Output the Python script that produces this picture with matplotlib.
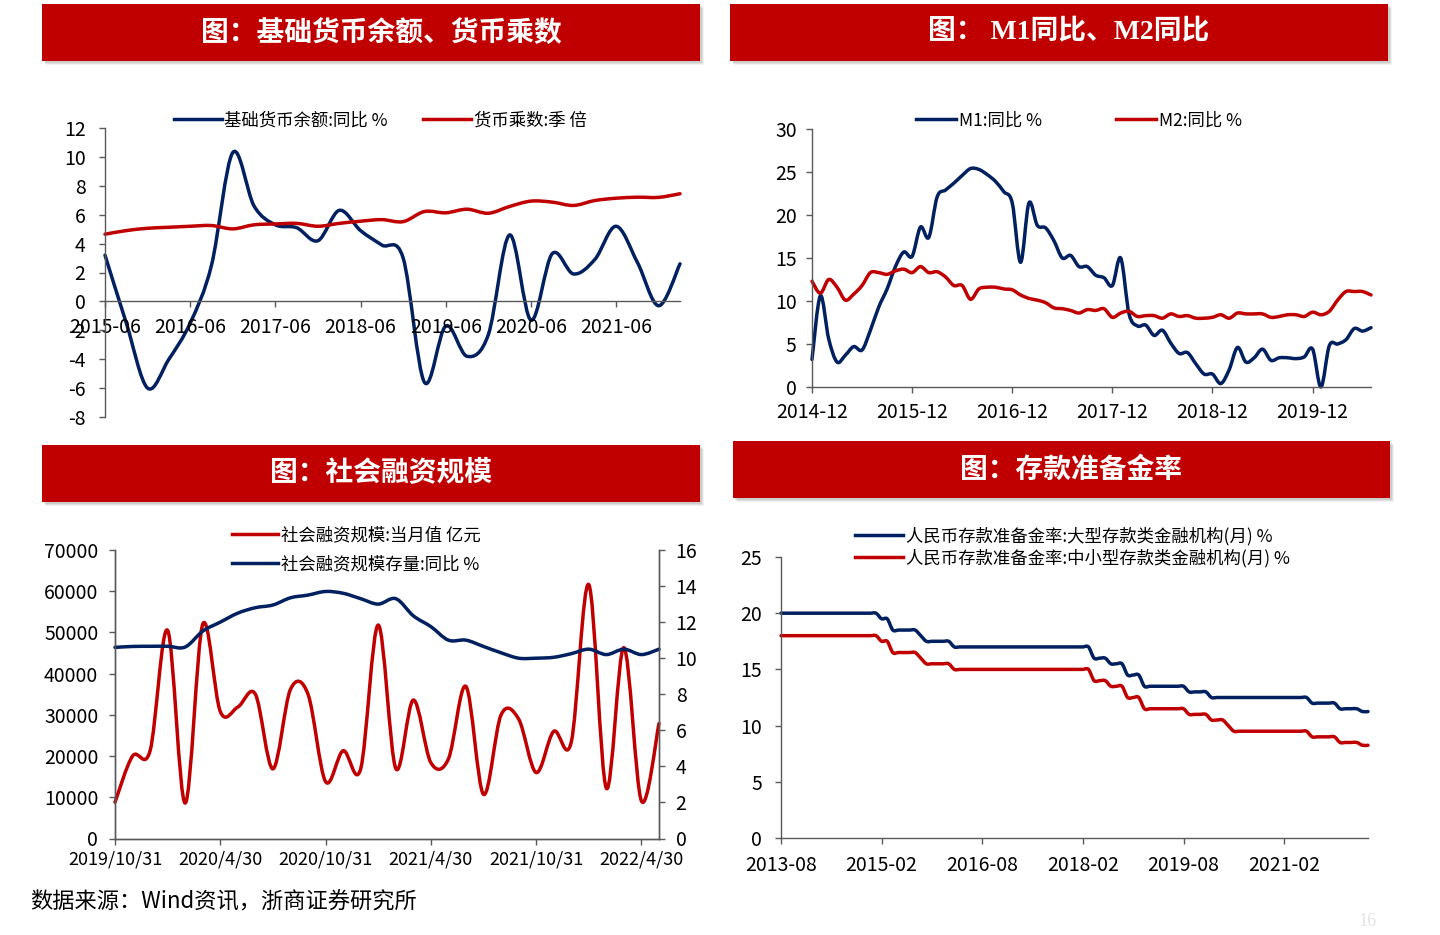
import matplotlib
matplotlib.use("Agg")
import matplotlib.pyplot as plt
from matplotlib.lines import Line2D
from matplotlib.path import Path
from matplotlib.patches import PathPatch, Rectangle

plt.rcParams["font.family"] = ["Noto Sans CJK SC", "DejaVu Sans"]
plt.rcParams["axes.unicode_minus"] = False

BLUE = "#002060"
RED = "#C00000"
SPINE = "#595959"
W, H = 1440, 935

# ---- panel 1: base money yoy (%) and money multiplier, quarterly 2015-06 .. 2022-03
base_money_yoy = [3.2, -1.5, -6.0, -4.0, -1.5, 2.5, 10.3, 6.6, 5.3, 5.1, 4.2, 6.3, 4.9, 3.9,
                  3.0, -5.6, -1.7, -3.8, -2.3, 4.6, -1.3, 3.3, 1.9, 2.9, 5.2, 2.7, -0.3, 2.6]
money_multiplier = [4.65, 4.9, 5.06, 5.13, 5.2, 5.25, 5.02, 5.3, 5.36, 5.4, 5.2, 5.4, 5.55, 5.66,
                    5.52, 6.22, 6.13, 6.38, 6.1, 6.57, 6.94, 6.87, 6.64, 6.98, 7.14, 7.21, 7.2, 7.45]
p1_ticks = [0, 4, 8, 12, 16, 20, 24]
p1_labels = ["2015-06", "2016-06", "2017-06", "2018-06", "2019-06", "2020-06", "2021-06"]

# ---- panel 2: M1 / M2 yoy (%), monthly 2014-12 .. 2020-07
m1_yoy = [3.2, 10.6, 5.6, 2.9, 3.7, 4.7, 4.3, 6.6, 9.3, 11.4, 14.0, 15.7,
          15.2, 18.6, 17.4, 22.1, 22.9, 23.7, 24.6, 25.4, 25.3, 24.7, 23.9, 22.7,
          21.4, 14.5, 21.4, 18.8, 18.5, 17.0, 15.0, 15.3, 14.0, 14.0, 13.0, 12.7,
          11.8, 15.0, 8.5, 7.1, 7.2, 6.0, 6.6, 5.1, 3.9, 4.0, 2.7, 1.5,
          1.5, 0.4, 2.0, 4.6, 2.9, 3.4, 4.4, 3.1, 3.4, 3.4, 3.3, 3.5,
          4.4, 0.0, 4.8, 5.0, 5.5, 6.8, 6.5, 6.9]
m2_yoy = [12.3, 10.9, 12.5, 11.6, 10.1, 10.8, 11.8, 13.3, 13.3, 13.1, 13.5, 13.7,
          13.3, 14.0, 13.3, 13.4, 12.8, 11.8, 11.8, 10.2, 11.4, 11.6, 11.6, 11.4,
          11.3, 10.7, 10.3, 10.1, 9.8, 9.2, 9.1, 8.9, 8.6, 9.0, 8.9, 9.1,
          8.1, 8.6, 8.8, 8.2, 8.3, 8.3, 8.0, 8.5, 8.2, 8.3, 8.0, 8.0,
          8.1, 8.4, 8.0, 8.6, 8.5, 8.5, 8.5, 8.1, 8.2, 8.4, 8.4, 8.2,
          8.7, 8.4, 8.8, 10.1, 11.1, 11.1, 11.1, 10.7]
p2_ticks = [0, 12, 24, 36, 48, 60]
p2_labels = ["2014-12", "2015-12", "2016-12", "2017-12", "2018-12", "2019-12"]

# ---- panel 3: total social financing, monthly 2019-10 .. 2022-05
tsf_flow = [8800, 20000, 21300, 50500, 8600, 52000, 30800, 31900, 35000, 16900, 36200, 35000,
            13800, 21300, 16900, 51800, 17000, 33600, 18400, 19300, 36900, 10700, 30000, 29000,
            16000, 26000, 23400, 61600, 12200, 46300, 9100, 27900]
tsf_stock_yoy = [10.6, 10.65, 10.66, 10.66, 10.62, 11.5, 12.0, 12.5, 12.8, 12.95, 13.35, 13.5,
                 13.7, 13.6, 13.3, 13.0, 13.3, 12.35, 11.75, 11.0, 11.0, 10.65, 10.3, 10.0,
                 10.0, 10.05, 10.25, 10.5, 10.2, 10.5, 10.2, 10.5]
p3_ticks = [0, 6, 12, 18, 24, 30]
p3_labels = ["2019/10/31", "2020/4/30", "2020/10/31", "2021/4/30", "2021/10/31", "2022/4/30"]

# ---- panel 4: RRR (%), monthly 2013-08 .. 2022-05
rrr_large = ([20.0] * 18 + [19.5] * 2 + [18.5] * 5 + [18.0] + [17.5] * 5 + [17.0] * 25
             + [16.0] * 3 + [15.5] * 3 + [14.5] * 3 + [13.5] * 8 + [13.0] * 4 + [12.5] * 18
             + [12.0] * 5 + [11.5] * 4 + [11.25] * 2)
rrr_small = ([18.0] * 18 + [17.5] * 2 + [16.5] * 5 + [16.0] + [15.5] * 5 + [15.0] * 25
             + [14.0] * 3 + [13.5] * 3 + [12.5] * 3 + [11.5] * 8 + [11.0] * 4 + [10.5] * 3
             + [10.0] + [9.5] * 14 + [9.0] * 5 + [8.5] * 4 + [8.25] * 2)
p4_ticks = [0, 18, 36, 54, 72, 90]
p4_labels = ["2013-08", "2015-02", "2016-08", "2018-02", "2019-08", "2021-02"]

LEG_FS = 12.5
TICK_FS = 14


def smooth(ax, y, color, lw=2.5):
    """Excel-like smoothed line (Catmull-Rom drawn as cubic Bezier)."""
    x = list(range(len(y)))
    verts = [(x[0], y[0])]
    codes = [Path.MOVETO]
    n = len(y)
    for i in range(n - 1):
        xa, ya = (x[i - 1], y[i - 1]) if i > 0 else (x[i], y[i])
        xd, yd = (x[i + 2], y[i + 2]) if i + 2 < n else (x[i + 1], y[i + 1])
        verts.append((x[i] + (x[i + 1] - xa) / 6, y[i] + (y[i + 1] - ya) / 6))
        verts.append((x[i + 1] - (xd - x[i]) / 6, y[i + 1] - (yd - y[i]) / 6))
        verts.append((x[i + 1], y[i + 1]))
        codes += [Path.CURVE4] * 3
    ax.add_patch(PathPatch(Path(verts, codes), fc="none", ec=color, lw=lw,
                           capstyle="round", joinstyle="round", clip_on=False))


def px_axes(fig, l, t, r, b):
    return fig.add_axes([l / W, 1 - b / H, (r - l) / W, (b - t) / H])


def style(ax, right=False):
    ax.spines["top"].set_visible(False)
    if not right:
        ax.spines["right"].set_visible(False)
    for s in ax.spines.values():
        s.set_color(SPINE)
        s.set_linewidth(1)
    ax.tick_params(direction="out", length=4, width=1, color=SPINE, labelsize=TICK_FS,
                   labelcolor="black")
    ax.set_facecolor("none")


def legend(ax, handles, labels, anchor, loc, **kw):
    ax.legend(handles, labels, loc=loc, bbox_to_anchor=(anchor[0] / W, 1 - anchor[1] / H),
              bbox_transform=ax.figure.transFigure, frameon=False, fontsize=LEG_FS,
              handletextpad=0.17, borderpad=0, borderaxespad=0, **kw)


def header(bg, l, t, r, b, text, family=None):
    for k, a in [(4, 0.10), (3, 0.15), (2, 0.2)]:
        bg.add_patch(Rectangle((l + k, t + k), r - l, b - t, fc="#7f7f7f", ec="none", alpha=a))
    bg.add_patch(Rectangle((l, t), r - l, b - t, fc=RED, ec="none"))
    kw = {"family": family} if family else {}
    bg.text((l + r) / 2 + 10, (t + b) / 2, text, color="white", fontsize=20, weight="bold",
            ha="center", va="center", **kw)


fig = plt.figure(figsize=(W / 100, H / 100), dpi=100)

bg = fig.add_axes([0, 0, 1, 1], zorder=-5)
bg.set_xlim(0, W)
bg.set_ylim(H, 0)
bg.axis("off")
header(bg, 42, 4, 700, 61, "图：基础货币余额、货币乘数")
header(bg, 730, 4, 1388, 61, "图： M1同比、M2同比", family=["Liberation Serif", "Noto Sans CJK SC"])
header(bg, 42, 445, 700, 502, "图：社会融资规模")
header(bg, 733, 441, 1390, 498, "图：存款准备金率")
bg.text(30, 902, "数据来源：Wind资讯，浙商证券研究所", fontsize=16, va="center", ha="left")
bg.text(1367, 921, "16", fontsize=13, color="#e3e3e3", va="center", ha="center",
        family="Liberation Serif")

blue_h = Line2D([], [], color=BLUE, lw=2.5)
red_h = Line2D([], [], color=RED, lw=2.5)

# panel 1
ax1 = px_axes(fig, 105, 128, 680, 417)
style(ax1)
smooth(ax1, base_money_yoy, BLUE)
smooth(ax1, money_multiplier, RED)
ax1.set_xlim(0, len(base_money_yoy) - 1)
ax1.set_ylim(-8, 12)
ax1.set_yticks(range(-8, 13, 2))
ax1.set_xticks(p1_ticks)
ax1.set_xticklabels(p1_labels)
ax1.spines["bottom"].set_position(("data", 0))
ax1.tick_params(axis="x", pad=7)
ax1.tick_params(axis="y", pad=10)
legend(ax1, [blue_h, red_h], ["基础货币余额:同比 %", "货币乘数:季 倍"], (380, 120.5), "center",
       ncol=2, handlelength=2.76, columnspacing=2.0)

# panel 2
ax2 = px_axes(fig, 812, 129, 1371, 387)
style(ax2)
smooth(ax2, m1_yoy, BLUE)
smooth(ax2, m2_yoy, RED)
ax2.set_xlim(0, len(m1_yoy) - 1)
ax2.set_ylim(0, 30)
ax2.set_yticks(range(0, 31, 5))
ax2.set_xticks(p2_ticks)
ax2.set_xticklabels(p2_labels)
ax2.tick_params(axis="x", pad=7)
ax2.tick_params(axis="y", pad=7)
legend(ax2, [blue_h, red_h], ["M1:同比 %", "M2:同比 %"], (1079, 120.5), "center",
       ncol=2, handlelength=2.3, columnspacing=4.25)

# panel 3
ax3 = px_axes(fig, 115, 550, 659, 838.5)
style(ax3, right=True)
ax3r = ax3.twinx()
style(ax3r, right=True)
smooth(ax3, tsf_flow, RED)
smooth(ax3r, tsf_stock_yoy, BLUE)
ax3.set_xlim(0, len(tsf_flow) - 1)
ax3.set_ylim(0, 70000)
ax3.set_yticks(range(0, 70001, 10000))
ax3r.set_ylim(0, 16)
ax3r.set_yticks(range(0, 17, 2))
ax3.set_xticks(p3_ticks)
ax3.set_xticklabels(p3_labels)
ax3.tick_params(axis="x", pad=5, labelsize=13)
ax3.tick_params(axis="y", pad=8)
ax3r.tick_params(axis="y", pad=8)
legend(ax3, [red_h, blue_h], ["社会融资规模:当月值 亿元", "社会融资规模存量:同比 %"], (232, 526.5),
       "upper left", handlelength=2.65, labelspacing=0.62)

# panel 4
ax4 = px_axes(fig, 781, 557, 1368, 838)
style(ax4)
smooth(ax4, rrr_large, BLUE)
smooth(ax4, rrr_small, RED)
ax4.set_xlim(0, len(rrr_large) - 1)
ax4.set_ylim(0, 25)
ax4.set_yticks(range(0, 26, 5))
ax4.set_xticks(p4_ticks)
ax4.set_xticklabels(p4_labels)
ax4.tick_params(axis="x", pad=8)
ax4.tick_params(axis="y", pad=9.5)
legend(ax4, [blue_h, red_h], ["人民币存款准备金率:大型存款类金融机构(月) %",
                              "人民币存款准备金率:中小型存款类金融机构(月) %"], (855, 526.5),
       "upper left", handlelength=2.76, labelspacing=0.2)

fig.savefig("out.png", dpi=100)
